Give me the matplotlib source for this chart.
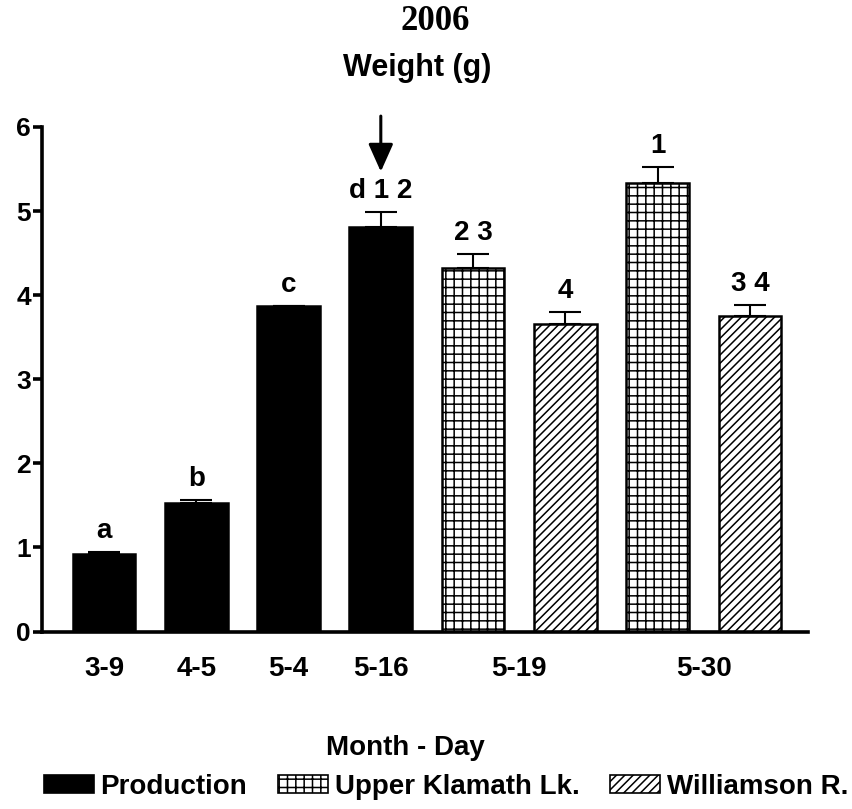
import matplotlib
matplotlib.use("Agg")
import matplotlib.pyplot as plt
import matplotlib.transforms as mtransforms
from matplotlib.patches import Patch
import numpy as np

# ---- data ----
dates = ['3-9', '4-5', '5-4', '5-16', '5-19', '5-19', '5-30', '5-30']
groups = ['Production', 'Production', 'Production', 'Production',
          'Upper Klamath Lk.', 'Williamson R.', 'Upper Klamath Lk.', 'Williamson R.']
weights = [0.92, 1.53, 3.87, 4.81, 4.32, 3.66, 5.33, 3.75]
errors = [0.025, 0.035, 0.0, 0.18, 0.17, 0.14, 0.19, 0.13]
letters = ['a', 'b', 'c', 'd 1 2', '2 3', '4', '1', '3 4']
group_names = ['Production', 'Upper Klamath Lk.', 'Williamson R.']
arrow_bar = 3
yticks = [0, 1, 2, 3, 4, 5, 6]

# ---- styles ----
styles = {
    'Production': dict(facecolor='black', hatch=None),
    'Upper Klamath Lk.': dict(facecolor='white', hatch='++'),
    'Williamson R.': dict(facecolor='white', hatch='////'),
}
plt.rcParams['font.family'] = ['Liberation Sans', 'DejaVu Sans']
plt.rcParams['font.weight'] = 'bold'
plt.rcParams['hatch.linewidth'] = 1.1
plt.rcParams['hatch.color'] = 'black'

fig = plt.figure(figsize=(8.52, 8.09), dpi=100)
ax = fig.add_axes([42 / 852, 1 - 631.5 / 809, (808 - 42) / 852, (631.5 - 127) / 809])

x = np.arange(len(weights))
for i in x:
    st = styles[groups[i]]
    ax.bar(i, weights[i], width=0.68, color=st['facecolor'], edgecolor='black',
           linewidth=1.8, hatch=st['hatch'], zorder=2)
ax.errorbar(x, weights, yerr=[np.zeros(len(errors)), errors], fmt='none',
            ecolor='black', elinewidth=1.5, capsize=11.5, capthick=1.5, zorder=3)

for i in x:
    ax.annotate(letters[i], xy=(i, weights[i] + errors[i]), xytext=(0, 6),
                textcoords='offset points', ha='center', va='bottom',
                fontsize=20, fontweight='bold', annotation_clip=False)

# arrow above bar
top = weights[arrow_bar] + errors[arrow_bar]
tipcoords = mtransforms.offset_copy(ax.transData, fig=fig, x=0, y=29, units='points')
ax.annotate('', xy=(arrow_bar, top), xycoords=tipcoords, xytext=(0, 40),
            textcoords='offset points', annotation_clip=False,
            arrowprops=dict(arrowstyle='-|>,head_length=0.85,head_width=0.38',
                            mutation_scale=20, lw=2.2, color='black',
                            shrinkA=0, shrinkB=0))

# ticks
uniq = list(dict.fromkeys(dates))
tick_pos = [np.mean([i for i in x if dates[i] == d]) for d in uniq]
ax.set_xticks(tick_pos)
ax.set_xticklabels(uniq, fontsize=20, fontweight='bold')
ax.tick_params(axis='x', length=0, pad=18)
ax.set_yticks(yticks)
ax.set_yticklabels([str(t) for t in yticks], fontsize=19, fontweight='bold')
ax.tick_params(axis='y', length=6.5, width=2.6, pad=1.5, direction='out')

ax.set_xlim(-0.672, 7.63)
ax.set_ylim(0, 6)
for s in ['top', 'right']:
    ax.spines[s].set_visible(False)
for s in ['left', 'bottom']:
    ax.spines[s].set_linewidth(2.6)
    ax.spines[s].set_capstyle('projecting')

# titles / labels
fig.text(435 / 852, 1 - 22 / 809, '2006', ha='center', va='center',
         fontsize=25, fontweight='bold', family='Liberation Serif')
fig.text(417 / 852, 1 - 68 / 809, 'Weight (g)', ha='center', va='center',
         fontsize=22, fontweight='bold')
fig.text(405 / 852, 1 - 748 / 809, 'Month - Day', ha='center', va='center',
         fontsize=20, fontweight='bold')

handles = [Patch(facecolor=styles[g]['facecolor'], edgecolor='black', linewidth=1.2,
                 hatch=styles[g]['hatch'], label=g) for g in group_names]
fig.legend(handles=handles, loc='center', bbox_to_anchor=(446 / 852, 1 - 787 / 809),
           ncol=3, frameon=False, handlelength=1.8, handleheight=0.6,
           handletextpad=0.25, columnspacing=1.1, prop=dict(weight='bold', size=20))

fig.savefig('out.png', dpi=100)
